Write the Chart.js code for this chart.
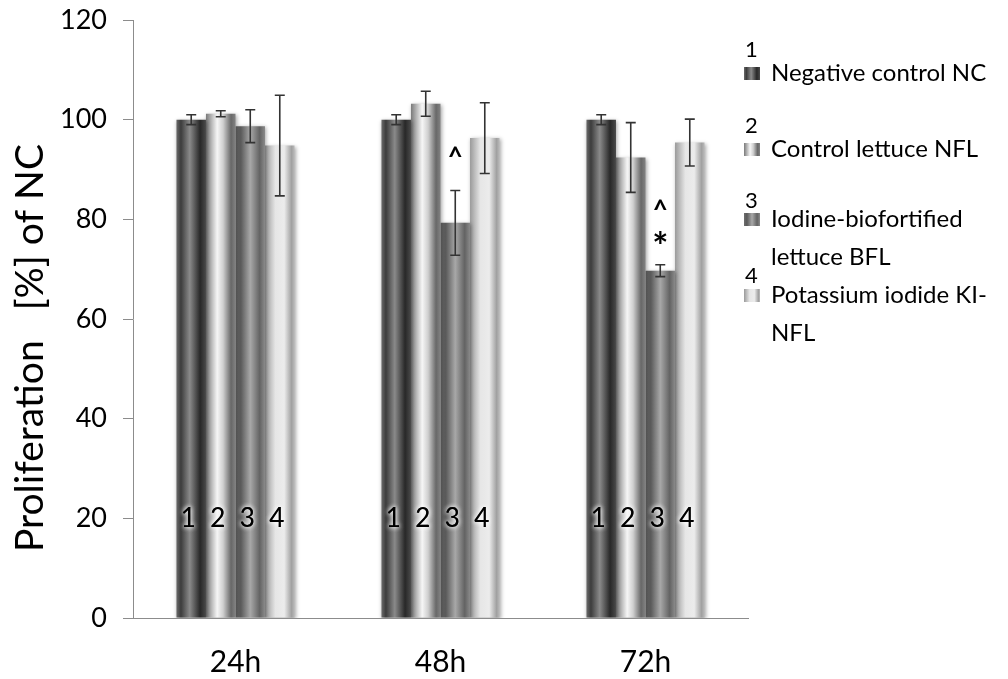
<!DOCTYPE html>
<html>
<head>
<meta charset="utf-8">
<script src="https://cdn.jsdelivr.net/npm/chart.js@4.4.1/dist/chart.umd.min.js"></script>
<style>
  html, body { margin: 0; padding: 0; background: #fff; }
  #wrap { width: 1008px; height: 679px; position: relative; }
</style>
</head>
<body>
<div id="wrap"><canvas id="c" width="1008" height="679"></canvas></div>
<script>
// ---- data ----
const categories = ['24h', '48h', '72h'];
const seriesNumbers = ['1', '2', '3', '4'];
const seriesNames = ['Negative control NC', 'Control lettuce NFL', 'Iodine-biofortified lettuce BFL', 'Potassium iodide KI-NFL'];
const legendLines = [['Negative control NC'], ['Control lettuce NFL'], ['Iodine-biofortified', 'lettuce BFL'], ['Potassium iodide KI-', 'NFL']];
const valuesNC = [100, 100, 100];
const valuesNFL = [101.2, 103.2, 92.4];
const valuesBFL = [98.7, 79.3, 69.7];
const valuesKINFL = [94.8, 96.3, 95.4];
const errorsNC = [1.0, 1.0, 1.0];
const errorsNFL = [0.6, 2.5, 7.0];
const errorsBFL = [3.3, 6.5, 1.2];
const errorsKINFL = [10.1, 7.1, 4.7];
const yTickValues = [0, 20, 40, 60, 80, 100, 120];
const innerLabelLevel = 20;
const sigMarks = [
  { category: 1, series: 2, y: 92.3, text: '^' },
  { category: 2, series: 2, y: 81.8, text: '^' },
  { category: 2, series: 2, y: 75.8, text: '*' }
];
const yTitle = 'Proliferation   [%] of NC';

const seriesValues = [valuesNC, valuesNFL, valuesBFL, valuesKINFL];
const seriesErrors = [errorsNC, errorsNFL, errorsBFL, errorsKINFL];

// ---- styles ----
const FONT = 'Lato, "Open Sans", sans-serif';
const gradStops = [
  [[0, '#6a6a6a'], [0.15, '#3c3c3c'], [0.45, '#8a8a8a'], [0.8, '#282828'], [1, '#4a4a4a']],
  [[0, '#7a7a7a'], [0.38, '#f6f6f6'], [0.58, '#cfcfcf'], [0.85, '#686868'], [1, '#828282']],
  [[0, '#6e6e6e'], [0.18, '#5a5a5a'], [0.5, '#a8a8a8'], [0.82, '#636363'], [1, '#8a8a8a']],
  [[0, '#9a9a9a'], [0.35, '#e6e6e6'], [0.65, '#ececec'], [0.9, '#a0a0a0'], [1, '#bababa']]
];

function makeGrad(ctx, x0, x1, stops) {
  const g = ctx.createLinearGradient(x0, 0, x1, 0);
  stops.forEach(s => g.addColorStop(s[0], s[1]));
  return g;
}

const barStylePlugin = {
  id: 'barStyle',
  beforeDatasetsDraw(chart) {
    const ctx = chart.ctx;
    chart.data.datasets.forEach((ds, i) => {
      const meta = chart.getDatasetMeta(i);
      meta.data.forEach(el => {
        const g = makeGrad(ctx, el.x - el.width / 2, el.x + el.width / 2, gradStops[i]);
        el.options = Object.assign({}, el.options, { backgroundColor: g });
      });
    });
    ctx.save();
    ctx.shadowColor = 'rgba(0,0,0,0.35)';
    ctx.shadowBlur = 4;
    ctx.shadowOffsetX = 1;
    ctx.shadowOffsetY = 1;
  },
  afterDatasetsDraw(chart) {
    const ctx = chart.ctx;
    ctx.restore();
    const yS = chart.scales.y;
    // error bars
    ctx.save();
    ctx.strokeStyle = '#333';
    ctx.lineWidth = 1.6;
    chart.data.datasets.forEach((ds, i) => {
      const meta = chart.getDatasetMeta(i);
      meta.data.forEach((el, j) => {
        const v = seriesValues[i][j], e = seriesErrors[i][j];
        const yt = yS.getPixelForValue(v + e), yb = yS.getPixelForValue(v - e);
        const cap = 5;
        ctx.beginPath();
        ctx.moveTo(el.x, yt); ctx.lineTo(el.x, yb);
        ctx.moveTo(el.x - cap, yt); ctx.lineTo(el.x + cap, yt);
        ctx.moveTo(el.x - cap, yb); ctx.lineTo(el.x + cap, yb);
        ctx.stroke();
      });
    });
    ctx.restore();
    // inner number labels
    ctx.save();
    ctx.font = '26px ' + FONT;
    ctx.textAlign = 'center';
    ctx.textBaseline = 'middle';
    ctx.fillStyle = '#000';
    ctx.shadowColor = 'rgba(255,255,255,1)';
    ctx.shadowBlur = 5;
    chart.data.datasets.forEach((ds, i) => {
      const meta = chart.getDatasetMeta(i);
      meta.data.forEach(el => {
        const y = yS.getPixelForValue(innerLabelLevel);
        ctx.fillText(seriesNumbers[i], el.x - 3, y);
        ctx.fillText(seriesNumbers[i], el.x - 3, y);
      });
    });
    ctx.restore();
    // significance marks
    ctx.save();
    ctx.textAlign = 'center';
    ctx.textBaseline = 'middle';
    ctx.fillStyle = '#000';
    sigMarks.forEach(m => {
      const el = chart.getDatasetMeta(m.series).data[m.category];
      ctx.font = (m.text === '*' ? 'bold 38px ' : 'bold 26px ') + FONT;
      const dy = m.text === '*' ? 7 : 0;
      ctx.fillText(m.text, el.x, yS.getPixelForValue(m.y) + dy);
    });
    ctx.restore();
  },
  afterDraw(chart) {
    const ctx = chart.ctx;
    // y title
    ctx.save();
    ctx.translate(30, 348);
    ctx.rotate(-Math.PI / 2);
    ctx.font = '39px ' + FONT;
    ctx.textAlign = 'center';
    ctx.textBaseline = 'middle';
    ctx.fillStyle = '#000';
    ctx.fillText(yTitle, 0, 0);
    ctx.restore();
    // legend
    const numY = [50, 126, 201, 276];
    const itemY = [73, 149, 219, 295];
    ctx.save();
    ctx.fillStyle = '#000';
    ctx.textBaseline = 'middle';
    legendLines.forEach((lines, i) => {
      ctx.font = '22px ' + FONT;
      ctx.textAlign = 'left';
      ctx.fillText(seriesNumbers[i], 745, numY[i]);
      const sx = 744, sy = itemY[i] - 6, sw = 16, sh = 13;
      ctx.fillStyle = makeGrad(ctx, sx, sx + sw, gradStops[i]);
      ctx.fillRect(sx, sy, sw, sh);
      ctx.fillStyle = '#000';
      ctx.font = '24px ' + FONT;
      lines.forEach((ln, k) => {
        ctx.fillText(ln, 771, itemY[i] + k * 38);
      });
    });
    ctx.restore();
  }
};

const datasets = seriesNames.map((name, i) => ({
  label: name,
  data: seriesValues[i],
  backgroundColor: '#888',
  borderWidth: 0,
  barPercentage: 1.0,
  categoryPercentage: 0.576
}));

new Chart(document.getElementById('c'), {
  type: 'bar',
  data: { labels: categories, datasets },
  options: {
    responsive: false,
    animation: false,
    devicePixelRatio: 1,
    layout: { padding: { top: 20, right: 260, left: 0, bottom: 0 } },
    plugins: { legend: { display: false }, tooltip: { enabled: false } },
    scales: {
      x: {
        grid: { display: true, drawOnChartArea: false, drawTicks: false },
        border: { display: true, color: '#8c8c8c', width: 1 },
        ticks: { color: '#000', font: { family: FONT, size: 30 }, padding: 26 },
        afterFit: s => { s.height = 61; s.paddingLeft = 0; s.paddingRight = 0; }
      },
      y: {
        min: 0, max: 120,
        afterBuildTicks: s => { s.ticks = yTickValues.map(v => ({ value: v })); },
        grid: { display: true, drawOnChartArea: false, drawTicks: true, tickLength: 10, color: '#8c8c8c' },
        border: { display: true, color: '#8c8c8c', width: 1 },
        ticks: { color: '#000', font: { family: FONT, size: 27 }, padding: 16 },
        afterFit: s => { s.width = 133; s.paddingTop = 0; s.paddingBottom = 0; }
      }
    }
  },
  plugins: [barStylePlugin]
});
</script>
</body>
</html>
